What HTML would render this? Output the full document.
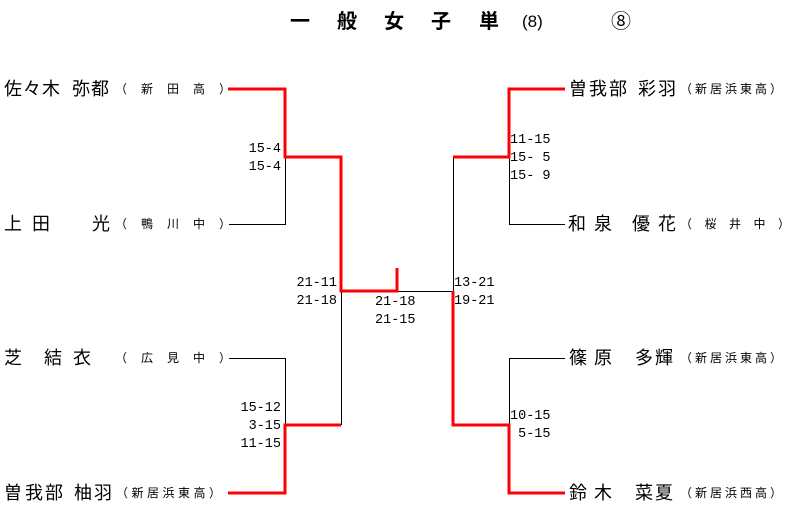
<!DOCTYPE html>
<html><head><meta charset="utf-8"><style>
body{margin:0;width:793px;height:517px;background:#fff;position:relative;overflow:hidden;font-family:"Liberation Sans","Noto Sans CJK JP",sans-serif;color:#000}
.c{position:absolute;font-size:18px;line-height:20px;width:20px;text-align:center}
.s{position:absolute;font-size:12px;line-height:14px;white-space:nowrap}
.n{position:absolute;font-size:13.5px;line-height:18px;font-family:"Liberation Mono",monospace;white-space:pre}
.r{text-align:right;width:60px}
.t{position:absolute;font-size:20px;font-weight:bold;line-height:24px}
svg{position:absolute;left:0;top:0}
</style></head><body>
<svg width="793" height="517">
<g stroke="#000" stroke-width="1" fill="none">
<path d="M229 224.5H285.5V157"/>
<path d="M229 358.5H285.5V425"/>
<path d="M341.5 291V425"/>
<path d="M397 291.5H453.5V157"/>
<path d="M565 224.5H509.5V157"/>
<path d="M565 358.5H509.5V425"/>
</g>
<g stroke="#f00" stroke-width="3" fill="none">
<path d="M228 89H285V157H341V291H397V268"/>
<path d="M228 493H285V425H341"/>
<path d="M565 89H509V157H453"/>
<path d="M565 493H509V425H453V291"/>
</g>
</svg>

<div class="t" style="left:290px;top:10px">一</div>
<div class="t" style="left:337px;top:10px">般</div>
<div class="t" style="left:384px;top:10px">女</div>
<div class="t" style="left:431px;top:10px">子</div>
<div class="t" style="left:479px;top:10px">単</div>
<div class="t" style="left:522px;top:10px;font-weight:normal;font-size:17px">(8)</div>
<div class="t" style="left:611px;top:10px;font-weight:normal">⑧</div>

<div class="c" style="left:3px;top:79px">佐</div><div class="c" style="left:22px;top:79px">々</div><div class="c" style="left:41px;top:79px">木</div><div class="c" style="left:71px;top:79px">弥</div><div class="c" style="left:90px;top:79px">都</div>
<div class="s" style="left:115px;top:82px;letter-spacing:14px">（新田高）</div>
<div class="c" style="left:3px;top:214px">上</div><div class="c" style="left:31px;top:214px">田</div><div class="c" style="left:91px;top:214px">光</div>
<div class="s" style="left:115px;top:217px;letter-spacing:14px">（鴨川中）</div>
<div class="c" style="left:3px;top:348px">芝</div><div class="c" style="left:43px;top:348px">結</div><div class="c" style="left:72px;top:348px">衣</div>
<div class="s" style="left:115px;top:351px;letter-spacing:14px">（広見中）</div>
<div class="c" style="left:3px;top:483px">曽</div><div class="c" style="left:24px;top:483px">我</div><div class="c" style="left:44px;top:483px">部</div><div class="c" style="left:73px;top:483px">柚</div><div class="c" style="left:93px;top:483px">羽</div>
<div class="s" style="left:116px;top:486px;letter-spacing:3.5px">（新居浜東高）</div>

<div class="c" style="left:568px;top:79px">曽</div><div class="c" style="left:588px;top:79px">我</div><div class="c" style="left:608px;top:79px">部</div><div class="c" style="left:637px;top:79px">彩</div><div class="c" style="left:657px;top:79px">羽</div>
<div class="s" style="left:680px;top:82px;letter-spacing:3px">（新居浜東高）</div>
<div class="c" style="left:567px;top:214px">和</div><div class="c" style="left:593px;top:214px">泉</div><div class="c" style="left:631px;top:214px">優</div><div class="c" style="left:657px;top:214px">花</div>
<div class="s" style="left:680px;top:217px;letter-spacing:12.5px">（桜井中）</div>
<div class="c" style="left:568px;top:348px">篠</div><div class="c" style="left:593px;top:348px">原</div><div class="c" style="left:634px;top:348px">多</div><div class="c" style="left:654px;top:348px">輝</div>
<div class="s" style="left:680px;top:351px;letter-spacing:3px">（新居浜東高）</div>
<div class="c" style="left:568px;top:483px">鈴</div><div class="c" style="left:593px;top:483px">木</div><div class="c" style="left:634px;top:483px">菜</div><div class="c" style="left:654px;top:483px">夏</div>
<div class="s" style="left:680px;top:486px;letter-spacing:3px">（新居浜西高）</div>

<div class="n r" style="left:221px;top:141px">15-4
15-4</div>
<div class="n" style="left:510px;top:132px">11-15
15- 5
15- 9</div>
<div class="n r" style="left:277px;top:275px">21-11
21-18</div>
<div class="n" style="left:375px;top:294px">21-18
21-15</div>
<div class="n" style="left:454px;top:275px">13-21
19-21</div>
<div class="n r" style="left:221px;top:400px">15-12
3-15
11-15</div>
<div class="n" style="left:510px;top:408px">10-15
 5-15</div>
</body></html>
